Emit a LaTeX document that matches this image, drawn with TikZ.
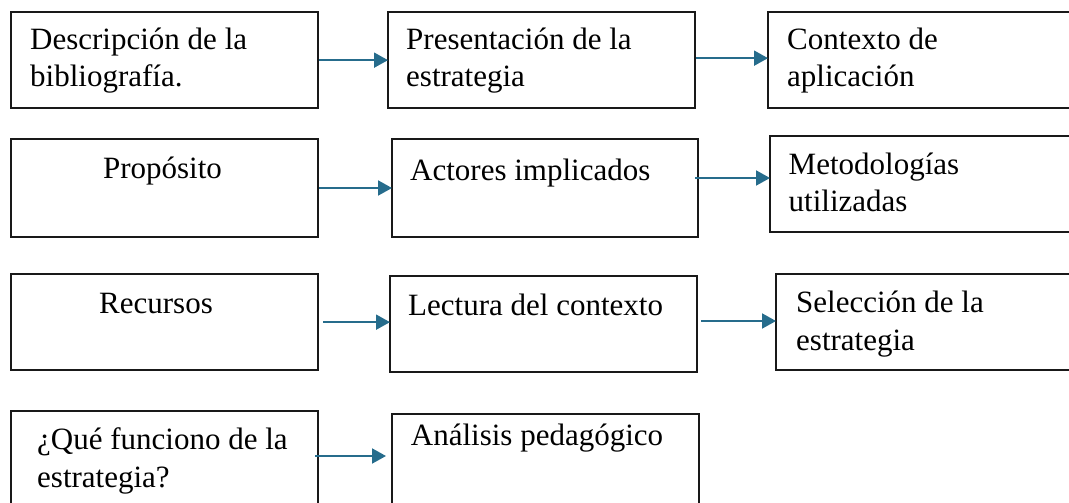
\documentclass[tikz,border=0pt]{standalone}
\usepackage{fontspec}
\setmainfont{Liberation Serif}
\usetikzlibrary{arrows.meta}
\definecolor{flowblue}{RGB}{38,108,140}

\begin{document}
\begin{tikzpicture}[x=1pt,y=1pt]
\tikzset{
  stage/.style={draw=black!90, line width=2pt, rectangle, inner sep=0pt, anchor=north west},
  stagetext/.style={inner sep=0pt, anchor=base west, align=left, font=\fontsize{31}{37.5}\selectfont},
  flow/.style={draw=flowblue, line width=2pt, -{Triangle[length=14pt,width=15pt]}, shorten >=-1pt}
}
\useasboundingbox (0,0) rectangle (1069,-503);
\clip (0,0) rectangle (1069,-503);
% first row
\node[stage, minimum width=307, minimum height=96.3] (desc) at (10,-11) {};
\node[stage, minimum width=307, minimum height=96.3] (pres) at (387,-11) {};
\node[stage, minimum width=320, minimum height=96.3] (ctx) at (767,-11) {};
\node[stagetext] at (30,-86.7) {Descripción de la\\bibliografía.};
\node[stagetext] at (406,-86.7) {Presentación de la\\estrategia};
\node[stagetext] at (787,-86.7) {Contexto de\\aplicación};
% second row
\node[stage, minimum width=307, minimum height=97.4] (prop) at (10,-138.3) {};
\node[stage, minimum width=306, minimum height=97.4] (act) at (391,-138.3) {};
\node[stage, minimum width=320, minimum height=95.7] (met) at (769,-135.3) {};
\node[stagetext, anchor=base] at (162.5,-178.3) {Propósito};
\node[stagetext] at (410,-180) {Actores implicados};
\node[stagetext] at (788.5,-211.7) {Metodologías\\utilizadas};
% third row
\node[stage, minimum width=307, minimum height=95.7] (rec) at (10,-273.3) {};
\node[stage, minimum width=307, minimum height=96] (lect) at (389,-275) {};
\node[stage, minimum width=320, minimum height=96] (sel) at (775,-273.3) {};
\node[stagetext, anchor=base] at (156,-313.3) {Recursos};
\node[stagetext] at (408,-315) {Lectura del contexto};
\node[stagetext] at (796,-350) {Selección de la\\estrategia};
% fourth row
\node[stage, minimum width=307, minimum height=110] (que) at (10,-410) {};
\node[stage, minimum width=307, minimum height=110] (ana) at (391,-413.3) {};
\node[stagetext] at (37,-487) {¿Qué funciono de la\\estrategia?};
\node[stagetext] at (410.7,-445) {Análisis pedagógico};
% arrows
\draw[flow] (desc.east) -- (desc.east -| pres.west);
\draw[flow] ([yshift=2]pres.east) -- ([yshift=2]pres.east -| ctx.west);
\draw[flow] (prop.east) -- (prop.east -| act.west);
\draw[flow] ([shift={(-4,10)}]act.east) -- ([yshift=10]act.east -| met.west);
\draw[flow] ([xshift=4]rec.east) -- (rec.east -| lect.west);
\draw[flow] ([shift={(3,3)}]lect.east) -- ([yshift=3]lect.east -| sel.west);
\draw[flow] ([shift={(-4,10)}]que.east) -- ([shift={(-6,10)}]que.east -| ana.west);
\end{tikzpicture}
\end{document}
